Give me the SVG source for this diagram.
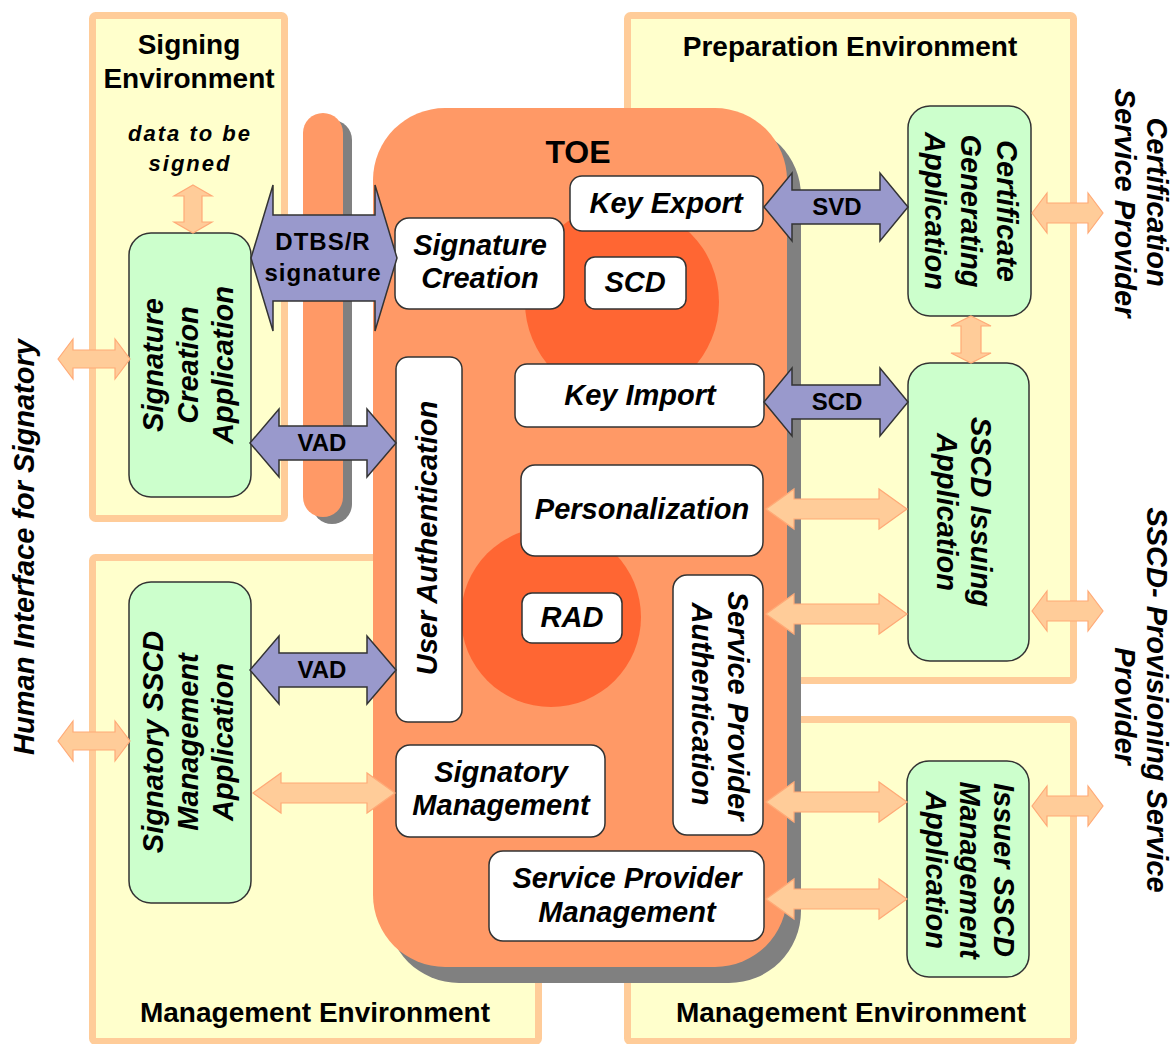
<svg xmlns="http://www.w3.org/2000/svg" width="1174" height="1044" viewBox="0 0 1174 1044">
<style>
.env{fill:#ffffcc;stroke:#ffcc99;stroke-width:7;stroke-linejoin:round}
.shadow{fill:#808080}
.toe{fill:#ff9966}
.core{fill:#ff6633}
.wbox{fill:#ffffff;stroke:#333333;stroke-width:1.5}
.gbox{fill:#ccffcc;stroke:#333333;stroke-width:1.5}
.parr{fill:#9999cc;stroke:#333333;stroke-width:1.5;stroke-linejoin:miter}
.oarr{fill:#ffcc99;stroke:#ffaa77;stroke-width:1.2}
text{font-family:"Liberation Sans",Arial,sans-serif;font-weight:bold;fill:#000000}
.t{font-size:28px;text-anchor:middle}
.i{font-size:29px;font-style:italic;text-anchor:middle}
.a{font-size:24px;text-anchor:middle}
</style>
<g id="env-signing">
<rect class="env" x="92.5" y="15.5" width="192" height="503" rx="3"/>
<text class="t" x="189" y="54">Signing</text>
<text class="t" x="189" y="88">Environment</text>
<text class="i" x="190" y="141" style="font-size:22px;letter-spacing:2px">data to be</text>
<text class="i" x="190" y="171" style="font-size:22px;letter-spacing:2px">signed</text>
</g>
<g id="env-management-left">
<rect class="env" x="92.5" y="557.5" width="446" height="484" rx="3"/>
<text class="t" x="315" y="1022">Management Environment</text>
</g>
<g id="env-preparation">
<rect class="env" x="627.5" y="15.5" width="446" height="665" rx="3"/>
<text class="t" x="850" y="56">Preparation Environment</text>
</g>
<g id="env-management-right">
<rect class="env" x="627.5" y="719.5" width="446" height="322" rx="3"/>
<text class="t" x="851" y="1022">Management Environment</text>
</g>
<g id="interface-pill">
<rect class="shadow" x="312" y="120" width="40" height="404" rx="20"/>
<rect class="toe" x="303" y="113" width="40" height="404" rx="20"/>
</g>
<g id="toe">
<rect class="shadow" x="387" y="124" width="414" height="859" rx="72"/>
<rect class="toe" x="373" y="108" width="414" height="859" rx="72"/>
<circle class="core" cx="622" cy="302" r="97"/>
<circle class="core" cx="551" cy="617" r="90"/>
<text x="578" y="163" style="font-size:32px;text-anchor:middle">TOE</text>
</g>
<g id="key-export"><rect class="wbox" x="570" y="176" width="193" height="55" rx="12"/><text class="i" x="666" y="213">Key Export</text></g>
<g id="signature-creation"><rect class="wbox" x="395" y="218" width="169" height="91" rx="14"/><text class="i" x="480" y="255">Signature</text><text class="i" x="480" y="288">Creation</text></g>
<g id="scd"><rect class="wbox" x="585" y="257" width="101" height="52" rx="10"/><text class="i" x="635" y="292">SCD</text></g>
<g id="key-import"><rect class="wbox" x="515" y="364" width="249" height="63" rx="12"/><text class="i" x="640" y="405">Key Import</text></g>
<g id="user-authentication"><rect class="wbox" x="396" y="357" width="66" height="365" rx="12"/><text class="i" transform="translate(437,538) rotate(-90)">User Authentication</text></g>
<g id="personalization"><rect class="wbox" x="521" y="465" width="242" height="91" rx="14"/><text class="i" x="642" y="519">Personalization</text></g>
<g id="rad"><rect class="wbox" x="522" y="593" width="100" height="50" rx="10"/><text class="i" x="572" y="627">RAD</text></g>
<g id="sp-authentication"><rect class="wbox" x="673" y="575" width="90" height="260" rx="14"/><text class="i" transform="translate(728,706) rotate(90)">Service Provider</text><text class="i" transform="translate(692,704) rotate(90)">Authentication</text></g>
<g id="signatory-management"><rect class="wbox" x="396" y="745" width="209" height="92" rx="14"/><text class="i" x="501" y="782">Signatory</text><text class="i" x="501" y="815">Management</text></g>
<g id="sp-management"><rect class="wbox" x="489" y="851" width="275" height="90" rx="14"/><text class="i" x="627" y="888">Service Provider</text><text class="i" x="627" y="922">Management</text></g>
<g id="signature-creation-application"><rect class="gbox" x="129" y="233" width="122" height="264" rx="22"/><text class="i" transform="translate(163,365) rotate(-90)">Signature</text><text class="i" transform="translate(198,365) rotate(-90)">Creation</text><text class="i" transform="translate(233,365) rotate(-90)">Application</text></g>
<g id="signatory-sscd-management-application"><rect class="gbox" x="129" y="582" width="122" height="321" rx="22"/><text class="i" transform="translate(163,742) rotate(-90)">Signatory SSCD</text><text class="i" transform="translate(198,742) rotate(-90)">Management</text><text class="i" transform="translate(233,742) rotate(-90)">Application</text></g>
<g id="certificate-generating-application"><rect class="gbox" x="908" y="106" width="123" height="210" rx="22"/><text class="i" transform="translate(997,211) rotate(90)">Certificate</text><text class="i" transform="translate(961,211) rotate(90)">Generating</text><text class="i" transform="translate(925,211) rotate(90)">Application</text></g>
<g id="sscd-issuing-application"><rect class="gbox" x="908" y="363" width="121" height="298" rx="22"/><text class="i" transform="translate(971,512) rotate(90)">SSCD Issuing</text><text class="i" transform="translate(937,512) rotate(90)">Application</text></g>
<g id="issuer-sscd-management-application"><rect class="gbox" x="907" y="761" width="122" height="216" rx="22"/><text class="i" transform="translate(994,870) rotate(90)">Issuer SSCD</text><text class="i" transform="translate(960,870) rotate(90)">Management</text><text class="i" transform="translate(926,870) rotate(90)">Application</text></g>
<g id="label-human-interface"><text class="i" transform="translate(34,547) rotate(-90)">Human Interface for Signatory</text></g>
<g id="label-certification-sp"><text class="i" transform="translate(1147,202) rotate(90)">Certification</text><text class="i" transform="translate(1115,203) rotate(90)">Service Provider</text></g>
<g id="label-sscd-provisioning-sp"><text class="i" transform="translate(1147,700) rotate(90)">SSCD- Provisioning Service</text><text class="i" transform="translate(1115,706) rotate(90)">Provider</text></g>
<g id="connectors">
<path class="parr" d="M251,258 L273,185 L273,215 L375,215 L375,185 L397,258 L375,331 L375,301 L273,301 L273,331 Z"/>
<path class="parr" d="M250,443 L279,409 L279,426 L367,426 L367,409 L396,443 L367,477 L367,460 L279,460 L279,477 Z"/>
<path class="parr" d="M250,670 L279,636 L279,653 L367,653 L367,636 L396,670 L367,704 L367,687 L279,687 L279,704 Z"/>
<path class="parr" d="M764,207 L792,173 L792,190 L880,190 L880,173 L908,207 L880,241 L880,224 L792,224 L792,241 Z"/>
<path class="parr" d="M764,402 L792,368 L792,385 L880,385 L880,368 L908,402 L880,436 L880,419 L792,419 L792,436 Z"/>
<text class="a" x="323" y="250" style="letter-spacing:1px">DTBS/R</text>
<text class="a" x="323" y="281" style="letter-spacing:1px">signature</text>
<text class="a" x="322" y="451">VAD</text>
<text class="a" x="322" y="678">VAD</text>
<text class="a" x="837" y="215">SVD</text>
<text class="a" x="837" y="410">SCD</text>
<path class="oarr" d="M193,185 L212,196 L202,196 L202,222 L212,222 L193,233 L174,222 L184,222 L184,196 L174,196 Z"/>
<path class="oarr" d="M971,316 L991,326 L981,326 L981,353 L991,353 L971,363 L951,353 L961,353 L961,326 L951,326 Z"/>
<path class="oarr" d="M58,359 L73,339 L73,350 L115,350 L115,339 L130,359 L115,379 L115,368 L73,368 L73,379 Z"/>
<path class="oarr" d="M58,741 L73,721 L73,732 L115,732 L115,721 L130,741 L115,761 L115,750 L73,750 L73,761 Z"/>
<path class="oarr" d="M253,793 L281,773 L281,783 L367,783 L367,773 L395,793 L367,813 L367,803 L281,803 L281,813 Z"/>
<path class="oarr" d="M766,509 L794,489 L794,499 L879,499 L879,489 L907,509 L879,529 L879,519 L794,519 L794,529 Z"/>
<path class="oarr" d="M766,614 L794,594 L794,604 L879,604 L879,594 L907,614 L879,634 L879,624 L794,624 L794,634 Z"/>
<path class="oarr" d="M766,802 L794,782 L794,792 L879,792 L879,782 L907,802 L879,822 L879,812 L794,812 L794,822 Z"/>
<path class="oarr" d="M766,899 L794,879 L794,889 L879,889 L879,879 L907,899 L879,919 L879,909 L794,909 L794,919 Z"/>
<path class="oarr" d="M1032,213 L1047,193 L1047,203 L1088,203 L1088,193 L1103,213 L1088,233 L1088,223 L1047,223 L1047,233 Z"/>
<path class="oarr" d="M1032,611 L1047,591 L1047,601 L1088,601 L1088,591 L1103,611 L1088,631 L1088,621 L1047,621 L1047,631 Z"/>
<path class="oarr" d="M1032,806 L1047,786 L1047,796 L1088,796 L1088,786 L1103,806 L1088,826 L1088,816 L1047,816 L1047,826 Z"/>
</g>
</svg>
